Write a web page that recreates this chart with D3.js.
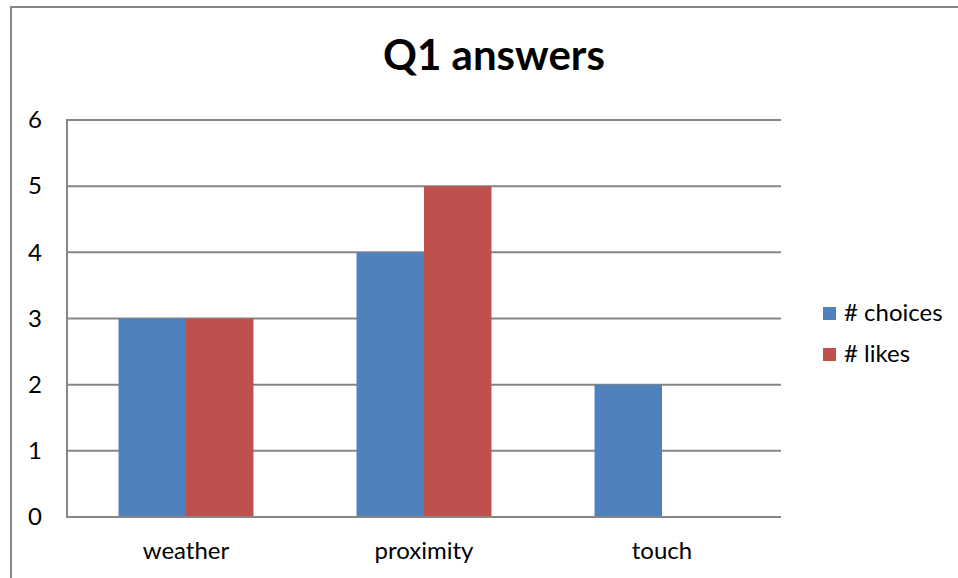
<!DOCTYPE html>
<html>
<head>
<meta charset="utf-8">
<script src="https://cdn.jsdelivr.net/npm/d3@7"></script>
<style>
  html, body { margin: 0; padding: 0; background: #fff; }
  svg { display: block; }
  text { font-family: Lato, "Open Sans", sans-serif; fill: #000; }
</style>
</head>
<body>
<svg id="chart" width="958" height="578"></svg>
<script>
// Survey answers for Q1
const categories = ["weather", "proximity", "touch"];
const seriesNames = ["# choices", "# likes"];
const choices = [3, 4, 2];
const likes = [3, 5, 0];
const yTicks = [0, 1, 2, 3, 4, 5, 6];
const title = "Q1 answers";

const colors = ["#4F81BD", "#C0504D"];
const gridColor = "#868686";
const labelSize = "24px";

const svg = d3.select("#chart");

// Chart-area frame
svg.append("rect")
  .attr("x", 11).attr("y", 7)
  .attr("width", 960).attr("height", 600)
  .attr("fill", "#fff")
  .attr("stroke", gridColor).attr("stroke-width", 2);

const plot = { left: 67, right: 781, top: 120, bottom: 517 };

const x0 = d3.scaleBand()
  .domain(categories)
  .range([plot.left, plot.right])
  .paddingInner(0).paddingOuter(0);

const x1 = d3.scaleBand()
  .domain(seriesNames)
  .range([x0.bandwidth() * 0.2165, x0.bandwidth() * 0.7835])
  .padding(0);

const y = d3.scaleLinear()
  .domain([0, 6])
  .range([plot.bottom, plot.top]);

// Horizontal gridlines
svg.append("g")
  .selectAll("line")
  .data(yTicks)
  .join("line")
  .attr("x1", plot.left).attr("x2", plot.right)
  .attr("y1", d => y(d)).attr("y2", d => y(d))
  .attr("stroke", gridColor).attr("stroke-width", 2);

// Left axis line
svg.append("line")
  .attr("x1", plot.left).attr("x2", plot.left)
  .attr("y1", plot.top - 1).attr("y2", plot.bottom + 1)
  .attr("stroke", gridColor).attr("stroke-width", 2);

// Y tick labels
const yAxis = d3.axisLeft(y).tickValues(yTicks).tickFormat(d3.format("d")).tickSize(0).tickPadding(0);
const yG = svg.append("g").attr("transform", `translate(${plot.left},0)`).call(yAxis);
yG.select(".domain").remove();
yG.selectAll("text")
  .attr("x", 35 - plot.left)
  .attr("text-anchor", "middle")
  .style("font-family", "Lato, 'Open Sans', sans-serif")
  .style("font-size", labelSize)
  .attr("fill", "#000");

// Bars
const rows = categories.map((c, i) => ({ cat: c, vals: [choices[i], likes[i]] }));
const groups = svg.append("g")
  .selectAll("g")
  .data(rows)
  .join("g")
  .attr("transform", d => `translate(${x0(d.cat)},0)`);

groups.selectAll("rect")
  .data(d => d.vals.map((v, k) => ({ name: seriesNames[k], v, k })))
  .join("rect")
  .attr("x", d => x1(d.name))
  .attr("width", x1.bandwidth())
  .attr("y", d => y(d.v))
  .attr("height", d => y(0) - y(d.v))
  .attr("fill", d => colors[d.k]);

// Bottom axis line drawn over bars
svg.append("line")
  .attr("x1", plot.left - 1).attr("x2", plot.right)
  .attr("y1", y(0)).attr("y2", y(0))
  .attr("stroke", gridColor).attr("stroke-width", 2);

// Category labels
const xAxis = d3.axisBottom(x0).tickSize(0).tickPadding(0);
const xG = svg.append("g").attr("transform", `translate(0,${plot.bottom})`).call(xAxis);
xG.select(".domain").remove();
xG.selectAll("text")
  .attr("y", 42)
  .attr("dy", 0)
  .style("font-family", "Lato, 'Open Sans', sans-serif")
  .style("font-size", labelSize)
  .attr("fill", "#000");

// Title
svg.append("text")
  .attr("x", 494).attr("y", 70)
  .attr("text-anchor", "middle")
  .style("font-size", "42px")
  .style("font-weight", "bold")
  .text(title);

// Legend
const legend = svg.append("g")
  .selectAll("g")
  .data(seriesNames)
  .join("g")
  .attr("transform", (d, i) => `translate(823,${307 + i * 41})`);

legend.append("rect")
  .attr("width", 13).attr("height", 13)
  .attr("fill", (d, i) => colors[i]);

legend.append("text")
  .attr("x", 21).attr("y", 14)
  .style("font-size", labelSize)
  .text(d => d);
</script>
</body>
</html>
